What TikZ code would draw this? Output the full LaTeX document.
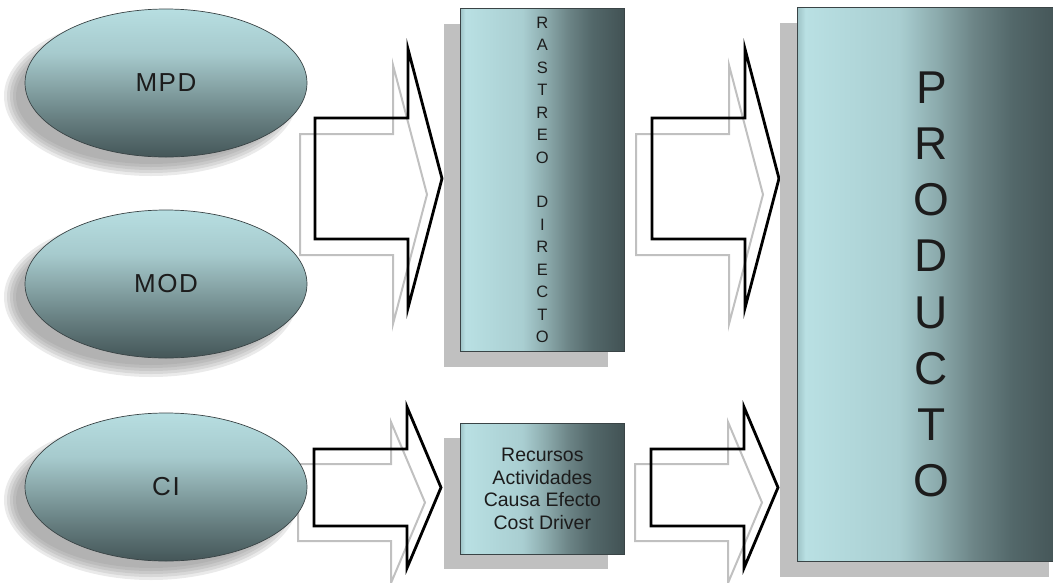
\documentclass[tikz,border=0pt]{standalone}
\usepackage{fontspec}
\setmainfont{Liberation Sans}
\newfontfamily\ellfont[LetterSpace=6]{Liberation Sans}
\usetikzlibrary{shapes.geometric,calc}
\definecolor{txt}{HTML}{1C1C1C}
\definecolor{bxA}{HTML}{9EC3C6}
\definecolor{bxL}{HTML}{B9E0E3}
\definecolor{bxB}{HTML}{A9CED1}
\definecolor{bxC}{HTML}{8CABAD}
\definecolor{bxD}{HTML}{6C8486}
\definecolor{bxE}{HTML}{53686A}
\definecolor{bxF}{HTML}{425254}
\definecolor{elT}{HTML}{B7DEE1}
\definecolor{elU}{HTML}{A6CACD}
\definecolor{elM}{HTML}{8AA8AA}
\definecolor{elL}{HTML}{677F81}
\definecolor{elB}{HTML}{445658}
\definecolor{shadowc}{HTML}{C0C0C0}
\definecolor{edge}{HTML}{3A4446}
\pgfdeclarehorizontalshading{boxgrad}{100bp}{color(0bp)=(bxA); color(25bp)=(bxA); color(26.5bp)=(bxL); color(44bp)=(bxB); color(51bp)=(bxC); color(58bp)=(bxD); color(65bp)=(bxE); color(75bp)=(bxF); color(100bp)=(bxF)}
\pgfdeclareverticalshading{ellgrad}{100bp}{color(0bp)=(elB); color(25bp)=(elB); color(38bp)=(elL); color(50bp)=(elM); color(60bp)=(elU); color(75bp)=(elT); color(100bp)=(elT)}
\newcommand\blockarrow[5]{%
  \draw[#1] (#2,#3) -- ++(93,0) -- ++(0,-#5) -- (#2+127,#3+#4/2) -- (#2+93,#3+#4+#5) -- ++(0,-#5) -- (#2,#3+#4) -- cycle;}
\tikzset{
  ell/.style={ellipse, minimum width=282pt, minimum height=148pt, inner sep=0pt, draw=edge, line width=0.7pt, shade, shading=ellgrad, text=txt, font=\ellfont\fontsize{26}{30}\selectfont},
  boxn/.style={rectangle, anchor=north west, inner sep=0pt, draw=edge, line width=0.7pt, shade, shading=boxgrad, text=txt, align=center},
  boxshadow/.style={fill=shadowc},
  ellshadow/.style={fill=gray, opacity=0.17},
  blk/.style={draw=black, line width=2.8pt, line join=miter},
  gry/.style={draw=shadowc, line width=2pt, line join=miter}
}
\begin{document}
\begin{tikzpicture}[x=1pt,y=-1pt]
\useasboundingbox (0,0) rectangle (1053,582);
% block arrows (gray echoes first)
\blockarrow{gry}{300}{134}{121}{69}
\blockarrow{gry}{636}{134}{121}{69}
\blockarrow{gry}{298}{464}{77}{42}
\blockarrow{gry}{635}{464}{77}{42}
\blockarrow{blk}{315}{118}{121}{69}
\blockarrow{blk}{652}{118}{121}{69}
\blockarrow{blk}{314}{449}{77}{42}
\blockarrow{blk}{651}{449}{77}{42}
% ellipse centres
\coordinate (cmpd) at (166,83);
\coordinate (cmod) at (166,284);
\coordinate (cci) at (166,487);
% soft ellipse shadows
\foreach \c in {cmpd,cmod,cci}{
  \foreach \r in {6,3,0,-3,-6}{
    \fill[ellshadow] ($(\c)+(-15,13)$) ellipse [x radius=141pt+\r pt, y radius=74pt+\r pt];
  }
}
\node[ell] (mpd) at (cmpd) {MPD};
\node[ell] (mod) at (cmod) {MOD};
\node[ell] (ci) at (cci) {CI};
% box shadows
\fill[boxshadow] (444,24) rectangle (608,367);
\fill[boxshadow] (444,438) rectangle (608,569);
\fill[boxshadow] (780,23) rectangle (1049,577);
% boxes
\node[boxn, minimum width=164pt, minimum height=343pt, font=\fontsize{16.5}{22.43}\selectfont] (rastreo) at (460,8)
  {R\\A\\S\\T\\R\\E\\O\\[22.43pt]D\\I\\R\\E\\C\\T\\O};
\node[boxn, minimum width=164pt, minimum height=131pt, font=\fontsize{19.5}{22.4}\selectfont] (recursos) at (460,423)
  {Recursos\\Actividades\\Causa Efecto\\Cost Driver};
\node[boxn, minimum width=268pt, minimum height=554pt, font=\fontsize{46}{56.1}\selectfont] (producto) at (797,7)
  {P\\R\\O\\D\\U\\C\\T\\O};
\end{tikzpicture}
\end{document}
